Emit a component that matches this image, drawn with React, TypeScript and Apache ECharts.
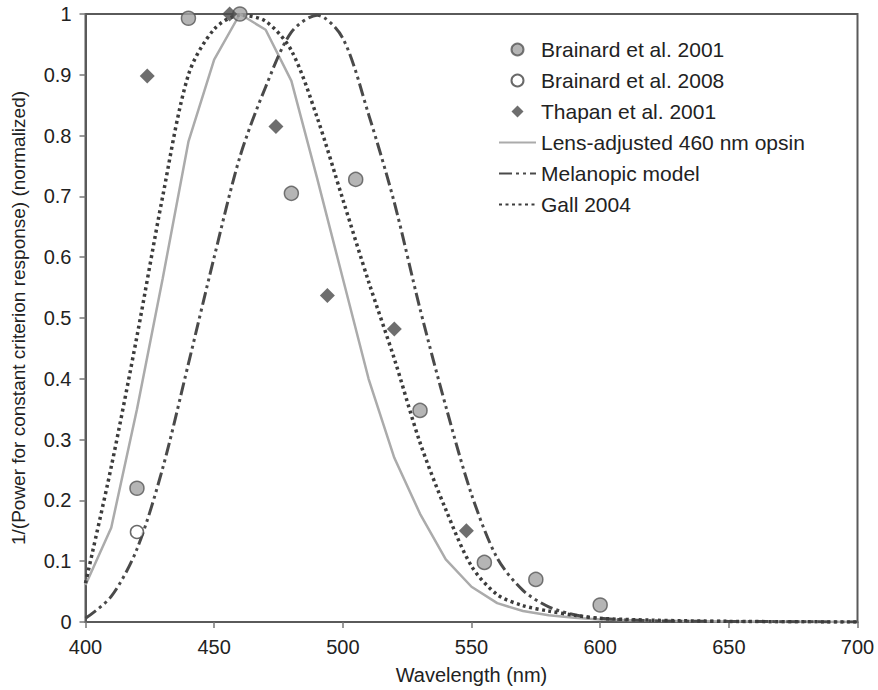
import React, { useEffect, useRef } from "react";
import * as echarts from "echarts";

const curveNm = [400, 410, 420, 430, 440, 450, 460, 470, 480, 490, 500, 510, 520, 530, 540, 550, 560, 570, 580, 590, 600, 620, 650, 700];
const lensOpsin = [0.061, 0.155, 0.35, 0.565, 0.79, 0.925, 1.0, 0.974, 0.89, 0.73, 0.565, 0.4, 0.27, 0.178, 0.103, 0.058, 0.031, 0.018, 0.011, 0.007, 0.004, 0.002, 0.001, 0];
const melanopic = [0.006, 0.042, 0.12, 0.253, 0.425, 0.6, 0.765, 0.88, 0.97, 0.998, 0.96, 0.835, 0.69, 0.515, 0.355, 0.21, 0.105, 0.052, 0.025, 0.012, 0.006, 0.002, 0.001, 0];
const gall2004 = [0.064, 0.255, 0.47, 0.7, 0.9, 0.975, 0.998, 0.988, 0.94, 0.83, 0.695, 0.56, 0.433, 0.295, 0.185, 0.092, 0.045, 0.027, 0.018, 0.011, 0.006, 0.003, 0.001, 0];

const brainard2001Nm = [420, 440, 460, 480, 505, 530, 555, 575, 600];
const brainard2001Val = [0.22, 0.993, 1.0, 0.705, 0.728, 0.348, 0.098, 0.07, 0.028];
const brainard2008Nm = [420];
const brainard2008Val = [0.148];
const thapanNm = [424, 456, 474, 494, 520, 548];
const thapanVal = [0.898, 1.0, 0.815, 0.537, 0.482, 0.15];

const seriesNames = [
  "Brainard et al. 2001",
  "Brainard et al. 2008",
  "Thapan et al. 2001",
  "Lens-adjusted 460 nm opsin",
  "Melanopic model",
  "Gall 2004",
];

const zip = (xs: number[], ys: number[]) => xs.map((x, i) => [x, ys[i]]);

const FONT = "'Liberation Sans', Arial, Helvetica, sans-serif";
const TEXT = "#222";
const FRAME = "#5a5a5a";
const DIAMOND = "path://M0,-1L1,0L0,1L-1,0Z";

export default function App() {
  const ref = useRef<HTMLDivElement>(null);
  useEffect(() => {
    if (!ref.current) return;
    const chart = echarts.init(ref.current, undefined, { renderer: "svg" });
    chart.setOption({
      animation: false,
      backgroundColor: "#fff",
      textStyle: { fontFamily: FONT },
      grid: {
        left: 85.5,
        right: 20.5,
        top: 14,
        bottom: 66,
        show: true,
        borderColor: FRAME,
        borderWidth: 2,
        backgroundColor: "transparent",
      },
      legend: {
        orient: "vertical",
        left: 493,
        top: 34,
        itemWidth: 37,
        itemHeight: 12,
        itemGap: 10,
        symbolKeepAspect: true,
        data: seriesNames.map((name, i) => {
          if (i === 2) return { name, icon: DIAMOND };
          if (i >= 3) return { name, itemStyle: { opacity: 0 } };
          return { name };
        }),
        textStyle: { fontFamily: FONT, fontSize: 21, color: TEXT, lineHeight: 21 },
      },
      xAxis: {
        type: "value",
        min: 400,
        max: 700,
        interval: 50,
        name: "Wavelength (nm)",
        nameLocation: "middle",
        nameGap: 43,
        nameTextStyle: { fontFamily: FONT, fontSize: 20, color: TEXT },
        axisLine: { show: true, lineStyle: { color: FRAME, width: 2 } },
        axisTick: { show: true, length: 6, lineStyle: { color: "#777", width: 1.5 } },
        axisLabel: { margin: 15, fontFamily: FONT, fontSize: 20, color: TEXT },
        splitLine: { show: false },
      },
      yAxis: {
        type: "value",
        min: 0,
        max: 1,
        interval: 0.1,
        name: "1/(Power for constant criterion response) (normalized)",
        nameLocation: "middle",
        nameGap: 58,
        nameTextStyle: { fontFamily: FONT, fontSize: 19, color: TEXT },
        axisLine: { show: true, lineStyle: { color: FRAME, width: 2 } },
        axisTick: { show: true, length: 6, lineStyle: { color: "#777", width: 1.5 } },
        axisLabel: {
          margin: 14,
          fontFamily: FONT,
          fontSize: 20,
          color: TEXT,
          formatter: (v: number) => String(Math.round(v * 10) / 10),
        },
        splitLine: { show: false },
      },
      series: [
        {
          name: "Lens-adjusted 460 nm opsin",
          type: "line",
          data: zip(curveNm, lensOpsin),
          showSymbol: false,
          symbol: "none",
          smooth: false,
          color: "#ababab",
          lineStyle: { color: "#ababab", width: 2.5 },
          z: 2,
        },
        {
          name: "Melanopic model",
          type: "line",
          data: zip(curveNm, melanopic),
          showSymbol: false,
          symbol: "none",
          smooth: 0.3,
          color: "#4a4a4a",
          lineStyle: { color: "#4a4a4a", width: 3, type: [13, 4, 3, 4, 3, 4] },
          z: 2,
        },
        {
          name: "Gall 2004",
          type: "line",
          data: zip(curveNm, gall2004),
          showSymbol: false,
          symbol: "none",
          smooth: 0.3,
          color: "#3c3c3c",
          lineStyle: { color: "#3c3c3c", width: 3.5, type: [3, 3.5] },
          z: 2,
        },
        {
          name: "Brainard et al. 2001",
          type: "scatter",
          data: zip(brainard2001Nm, brainard2001Val),
          symbol: "circle",
          symbolSize: 14,
          clip: false,
          itemStyle: { color: "#a3a3a3", borderColor: "#555", borderWidth: 1.5 },
          z: 5,
        },
        {
          name: "Brainard et al. 2008",
          type: "scatter",
          data: zip(brainard2008Nm, brainard2008Val),
          symbol: "circle",
          symbolSize: 13,
          clip: false,
          itemStyle: { color: "#ffffff", borderColor: "#444", borderWidth: 1.5 },
          z: 5,
        },
        {
          name: "Thapan et al. 2001",
          type: "scatter",
          data: zip(thapanNm, thapanVal),
          symbol: "diamond",
          symbolSize: 15,
          clip: false,
          itemStyle: { color: "#4a4a4a" },
          z: 5,
        },
      ],
    });
    return () => chart.dispose();
  }, []);
  return <div ref={ref} style={{ width: 878, height: 690, position: "absolute", left: 0, top: 0 }} />;
}
